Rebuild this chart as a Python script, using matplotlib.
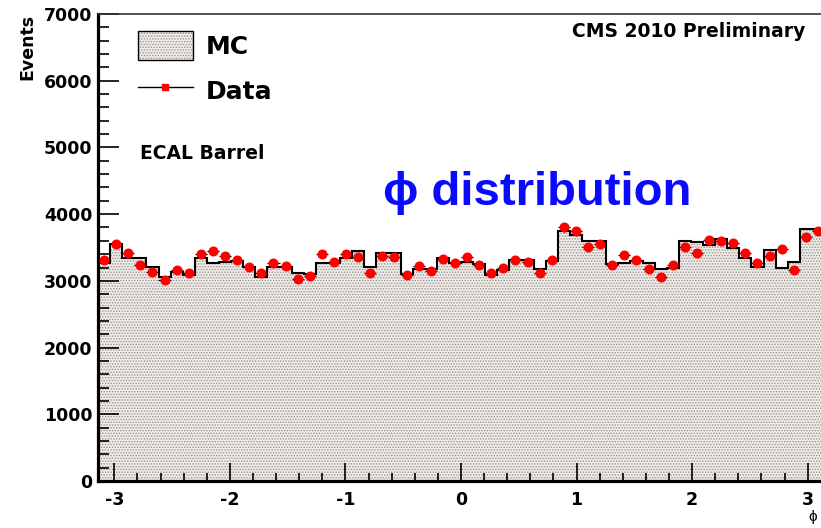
import numpy as np
import matplotlib
matplotlib.use("Agg")
import matplotlib.pyplot as plt
from matplotlib.patches import Patch
from matplotlib.lines import Line2D
from matplotlib.legend_handler import HandlerTuple
from matplotlib.ticker import MultipleLocator

# ECAL barrel phi distribution, 60 bins over [-pi, pi]
n_bins = 60
data_counts = [3315, 3550, 3415, 3245, 3140, 3015, 3165, 3115, 3400, 3445,
               3375, 3310, 3205, 3115, 3265, 3230, 3035, 3075, 3400, 3290,
               3400, 3355, 3115, 3380, 3355, 3090, 3225, 3155, 3330, 3265,
               3355, 3240, 3115, 3190, 3315, 3290, 3115, 3315, 3800, 3740,
               3505, 3550, 3240, 3390, 3315, 3180, 3055, 3240, 3505, 3415,
               3605, 3590, 3565, 3415, 3265, 3380, 3480, 3165, 3650, 3750]
mc_counts = [3265, 3550, 3340, 3340, 3215, 3065, 3140, 3090, 3350, 3265,
             3290, 3300, 3215, 3065, 3215, 3215, 3115, 3100, 3265, 3265,
             3340, 3455, 3215, 3425, 3425, 3100, 3175, 3175, 3340, 3265,
             3290, 3250, 3090, 3165, 3315, 3315, 3180, 3305, 3740, 3680,
             3590, 3590, 3250, 3265, 3300, 3265, 3180, 3200, 3590, 3575,
             3530, 3630, 3490, 3340, 3215, 3465, 3190, 3290, 3780, 3780]
x_ticks = [-3, -2, -1, 0, 1, 2, 3]
x_tick_labels = ["-3", "-2", "-1", "0", "1", "2", "3"]
y_ticks = [0, 1000, 2000, 3000, 4000, 5000, 6000, 7000]
y_tick_labels = ["0", "1000", "2000", "3000", "4000", "5000", "6000", "7000"]

plt.rcParams["font.family"] = ["DejaVu Sans"]
plt.rcParams["hatch.color"] = "#9a928a"
plt.rcParams["hatch.linewidth"] = 0.7

edges = np.linspace(-np.pi, np.pi, n_bins + 1)
centers = 0.5 * (edges[:-1] + edges[1:])
half_w = 0.5 * (edges[1] - edges[0])
data = np.array(data_counts, dtype=float)
mc = np.array(mc_counts, dtype=float)

fig = plt.figure(figsize=(8.21, 5.28), dpi=100)
ax = fig.add_axes([98 / 821, 47 / 528, 726 / 821, 467 / 528])

mc_fill_kw = dict(facecolor="#efece9", hatch="......")
ax.stairs(mc, edges, fill=True, linewidth=0, **mc_fill_kw, zorder=1)
ax.stairs(mc, edges, baseline=None, color="black", linewidth=1.5, zorder=2)

ax.errorbar(centers, data, xerr=half_w, yerr=np.sqrt(data), fmt="none",
            ecolor="black", elinewidth=0.9, capsize=0, zorder=3)
ax.plot(centers, data, linestyle="none", marker="o", markersize=6.2,
        markerfacecolor="#ff0000", markeredgecolor="#ff0000", zorder=4)

ax.set_xlim(-np.pi, np.pi)
ax.set_ylim(0, 7000)
ax.set_xticks(x_ticks, x_tick_labels)
ax.set_yticks(y_ticks, y_tick_labels)
ax.xaxis.set_minor_locator(MultipleLocator(0.2))
ax.yaxis.set_minor_locator(MultipleLocator(200))
ax.tick_params(axis="y", which="major", direction="in", length=15, width=1.2, pad=4)
ax.tick_params(axis="y", which="minor", direction="in", length=8, width=1.2)
ax.tick_params(axis="x", which="major", direction="in", length=13, width=1.2, pad=7)
ax.tick_params(axis="x", which="minor", direction="in", length=6, width=1.2)
for lab in ax.get_xticklabels() + ax.get_yticklabels():
    lab.set_fontsize(12.5)
    lab.set_fontweight("bold")

ax.spines["left"].set_linewidth(2.3)
ax.spines["bottom"].set_linewidth(2.3)
ax.spines["top"].set_linewidth(1.2)
ax.spines["top"].set_color("#333333")
ax.spines["right"].set_visible(False)

ax.set_ylabel("Events", loc="top", fontsize=12.5, fontweight="bold")
ax.yaxis.set_label_coords(-0.085, 1.0)

fig.text(813 / 821, 1 - 517 / 528, "ϕ", fontsize=11,
         family=["Liberation Sans", "DejaVu Sans"], ha="center", va="center")

# Legend
mc_handle = (Patch(linewidth=0, **mc_fill_kw),
             Patch(fill=False, edgecolor="black", linewidth=1.0))
data_handle = Line2D([], [], color="black", linewidth=1.0, marker="s",
                     markersize=5, markerfacecolor="#ff0000",
                     markeredgecolor="#ff0000")
leg = ax.legend([mc_handle, data_handle], ["MC", "Data"],
                handler_map={tuple: HandlerTuple(ndivide=1, pad=0)},
                loc="upper left", bbox_to_anchor=(0.055, 0.964),
                frameon=False, borderpad=0, borderaxespad=0,
                handlelength=2.2, handleheight=1.4, handletextpad=0.5,
                labelspacing=0.65,
                prop={"size": 18, "weight": "bold"})

fig.text(805 / 821, 1 - 37 / 528, "CMS 2010 Preliminary", fontsize=13.5,
         fontweight="bold", ha="right", va="baseline")
fig.text(140 / 821, 1 - 159 / 528, "ECAL Barrel", fontsize=13.5,
         fontweight="bold", ha="left", va="baseline")
fig.text(383 / 821, 1 - 205 / 528, "ϕ distribution", fontsize=34,
         family=["Liberation Sans", "DejaVu Sans"], fontweight="bold",
         color="#0a0aff", ha="left", va="baseline")

fig.savefig("out.png", dpi=100)
